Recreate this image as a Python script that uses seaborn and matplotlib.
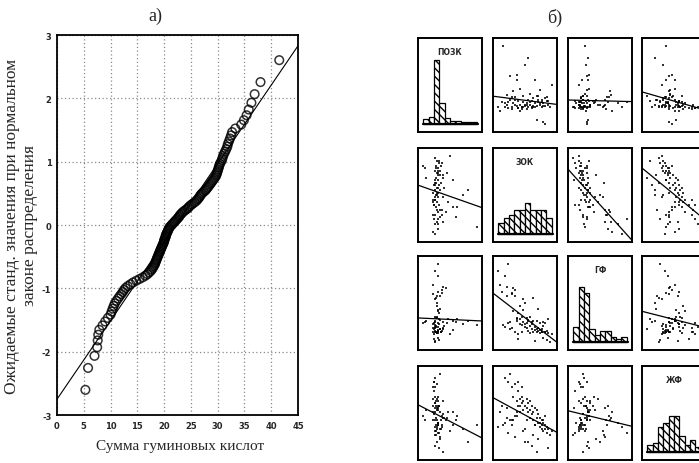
import numpy as np
import pandas as pd
import matplotlib
matplotlib.use("Agg")
import matplotlib.pyplot as plt
import seaborn as sns
from statistics import NormalDist

# ---------------- data ----------------
# a) normal probability plot: "Сумма гуминовых кислот" (sorted observations)
sum_humic = [5.3, 5.8, 7.0, 7.5, 7.6, 7.7, 7.9, 8.5, 9.0, 9.5,
             10.0, 10.2, 10.4, 10.6, 10.8, 11.1, 11.4, 11.7, 12.0, 12.3,
             12.5, 12.8, 13.2, 13.7, 14.2, 14.8, 15.4, 16.0, 16.5, 16.9,
             17.2, 17.5, 17.7, 17.9, 18.0, 18.2, 18.3, 18.4, 18.5, 18.6,
             18.7, 18.8, 18.9, 19.0, 19.1, 19.2, 19.3, 19.4, 19.5, 19.6,
             19.7, 19.8, 19.9, 20.0, 20.0, 20.1, 20.2, 20.3, 20.3, 20.4,
             20.5, 20.6, 20.7, 20.8, 20.9, 21.0, 21.2, 21.4, 21.6, 21.8,
             22.0, 22.2, 22.4, 22.6, 22.8, 22.9, 23.1, 23.3, 23.5, 23.8,
             24.1, 24.4, 24.6, 24.8, 25.1, 25.4, 25.7, 26.0, 26.2, 26.4,
             26.6, 26.7, 26.9, 27.1, 27.4, 27.7, 27.9, 28.1, 28.3, 28.5,
             28.7, 28.9, 29.1, 29.3, 29.5, 29.7, 29.8, 29.9, 30.0, 30.1,
             30.2, 30.3, 30.4, 30.6, 30.8, 30.9, 31.0, 31.2, 31.4, 31.6,
             31.8, 31.9, 32.1, 32.3, 32.5, 32.7, 33.3, 34.4, 34.9, 35.4,
             35.8, 36.3, 36.9, 38.0, 41.5]
x_ticks = [0, 5, 10, 15, 20, 25, 30, 35, 40, 45]
y_ticks = [-3, -2, -1, 0, 1, 2, 3]

# b) scatter-plot matrix variables
var_names = ["ПОЗК", "ЗОК", "ГФ", "ЖФ"]
poz = [2.0, 1.7, 2.4, 7.0, 2.0, 3.0, 2.2, 1.9, 2.6, 4.5,
       2.0, 1.8, 2.3, 2.8, 2.2, 2.1, 4.2, 2.5, 1.9, 2.2,
       3.5, 2.0, 2.0, 2.4, 2.9, 2.1, 5.4, 2.3, 1.8, 2.6,
       2.0, 3.1, 2.2, 1.9, 2.5, 2.7, 2.0, 4.2, 2.3, 2.1,
       0.9, 2.4, 2.9, 2.2, 3.4, 2.0, 2.6, 2.3, 2.1, 2.1,
       0.6, 2.5, 2.8, 2.2, 2.0, 3.8, 2.4, 0.8, 2.7, 2.3,
       2.0, 2.9, 2.2, 2.6, 2.4, 1.8, 2.5, 6.0, 1.9, 2.1,
       2.3, 3.3, 2.0, 2.6, 2.2, 1.7, 2.4, 2.0, 4.6, 2.8]
zok = [10, 11, 12, 13, 14, 15, 15, 16, 17, 17,
       18, 18, 19, 20, 20, 21, 21, 22, 22, 23,
       23, 24, 24, 25, 25, 26, 26, 27, 27, 28,
       28, 29, 29, 30, 30, 31, 31, 32, 32, 33,
       33, 34, 34, 35, 35, 36, 36, 37, 37, 38,
       38, 39, 39, 40, 41, 42, 36, 37, 38, 35,
       30, 33, 26, 20, 16, 24, 40, 28, 22, 31,
       14, 19, 25, 34, 27, 23, 29, 32, 21, 18]
gf = [7.8, 6.3, 5.6, 2.2, 2.0, 6.1, 5.2, 2.4, 1.8, 2.5,
      1.9, 5.4, 3.6, 5.8, 1.4, 2.9, 2.6, 3.4, 0.7, 4.1,
      2.8, 3.0, 2.2, 3.7, 2.5, 2.0, 2.3, 2.4, 1.9, 2.7,
      1.6, 2.1, 3.0, 1.8, 2.3, 1.5, 2.6, 1.7, 2.0, 1.4,
      2.6, 1.6, 1.9, 1.3, 2.4, 1.5, 1.8, 0.8, 2.1, 1.4,
      2.4, 0.6, 1.6, 1.3, 0.4, 1.2, 1.4, 2.5, 1.5, 1.7,
      2.5, 1.8, 4.5, 5.2, 8.5, 1.5, 2.8, 2.6, 1.2, 5.0,
      7.2, 6.0, 4.9, 3.8, 2.9, 2.3, 1.3, 0.5, 2.8, 5.5]
zhf = [37, 44, 47, 38, 60, 41, 46, 58, 62, 40,
       56, 40, 51, 42, 57, 49, 44, 47, 54, 50,
       44, 48, 51, 45, 49, 47, 36, 46, 50, 44,
       48, 41, 45, 43, 47, 40, 44, 38, 38, 41,
       45, 39, 43, 37, 41, 40, 36, 39, 35, 38,
       42, 34, 37, 36, 33, 35, 38, 40, 36, 39,
       28, 25, 30, 32, 34, 56, 27, 30, 58, 33,
       39, 40, 35, 31, 40, 47, 49, 46, 42, 38]

# ---------------- style ----------------
sns.set_theme(style="white")
plt.rcParams["font.family"] = ["Liberation Serif", "DejaVu Serif"]
W, H = 699, 464
fig = plt.figure(figsize=(W / 100, H / 100), dpi=100)
fig.patch.set_facecolor("white")

# ---------------- a) probability plot ----------------
ax = fig.add_axes([57 / W, 1 - 416 / H, 241 / W, 380 / H])
x_sorted = np.sort(np.asarray(sum_humic, dtype=float))
n = len(x_sorted)
nd = NormalDist()
expected = np.array([nd.inv_cdf((i + 1 - 0.375) / (n + 0.25)) for i in range(n)])
qq = pd.DataFrame({"x": x_sorted, "z": expected})

ax.set_xlim(0, 45)
ax.set_ylim(-3, 3)
sns.regplot(data=qq, x="x", y="z", ax=ax, ci=None, truncate=False,
            scatter_kws=dict(s=38, facecolors="none", edgecolors="black", linewidths=1.1),
            line_kws=dict(color="black", lw=0.8))
ax.set_xlim(0, 45)
ax.set_ylim(-3, 3)
ax.set_xticks(x_ticks)
ax.set_yticks(y_ticks)
ax.set_xticklabels([str(v) for v in x_ticks], fontsize=6, fontweight="bold", family="DejaVu Sans")
ax.set_yticklabels([str(abs(v)) if v >= 0 else "-" + str(abs(v)) for v in y_ticks],
                   fontsize=6, fontweight="bold", family="DejaVu Sans")
ax.tick_params(length=0, pad=4)
ax.grid(True, color="#8a8a8a", linestyle=(0, (1, 2)), linewidth=0.9)
ax.set_axisbelow(True)
for s in ax.spines.values():
    s.set_color("black")
    s.set_linewidth(1.3)
ax.set_xlabel("")
ax.set_ylabel("")

fig.text(155 / W, 1 - 16 / H, "а)", ha="center", va="center", fontsize=13)
fig.text(180 / W, 1 - 447 / H, "Сумма гуминовых кислот", ha="center", va="center", fontsize=11)
fig.text(21 / W, 1 - 226 / H, "Ожидаемые станд. значения при нормальном\nзаконе распределения",
         ha="center", va="center", rotation=90, fontsize=12.5, linespacing=1.2,
         multialignment="center")

# ---------------- b) scatter-plot matrix ----------------
fig.text(555 / W, 1 - 18 / H, "б)", ha="center", va="center", fontsize=13)
mat = pd.DataFrame({var_names[0]: poz, var_names[1]: zok, var_names[2]: gf, var_names[3]: zhf})
col_left = [418, 493, 568, 642]
row_top = [39, 149, 257, 367]
bw, bh = 64, 94
hist_frac = [0.68, 0.33, 0.58, 0.38]


def lims(v):
    lo, hi = mat[v].min(), mat[v].max()
    r = hi - lo
    return lo - 0.1 * r, hi + 0.1 * r


for i, vy in enumerate(var_names):
    for j, vx in enumerate(var_names):
        a = fig.add_axes([col_left[j] / W, 1 - (row_top[i] + bh) / H, bw / W, bh / H])
        a.set_facecolor("white")
        a.set_xlim(*lims(vx))
        if i == j:
            counts, edges = np.histogram(mat[vx], bins=10)
            R = counts.max() / hist_frac[i]
            a.set_ylim(-0.09 * R, 0.91 * R)
            sns.histplot(data=mat, x=vx, bins=edges, ax=a, stat="count",
                         color="white", edgecolor="black", linewidth=0.9, alpha=1)
            for p in a.patches:
                p.set_hatch("\\\\\\\\")
            a.axhline(0, xmin=0.08, xmax=0.93, color="black", lw=1.6)
            a.text(0.5, 0.86, vx, transform=a.transAxes, ha="center", va="center",
                   fontsize=5.5, fontweight="bold", family="DejaVu Sans")
        else:
            a.set_ylim(*lims(vy))
            sns.regplot(data=mat, x=vx, y=vy, ax=a, ci=None, truncate=False,
                        marker="s",
                        scatter_kws=dict(s=3.5, color="black", linewidths=0),
                        line_kws=dict(color="black", lw=0.9))
            a.set_xlim(*lims(vx))
            a.set_ylim(*lims(vy))
        a.set_xticks([])
        a.set_yticks([])
        a.set_xlabel("")
        a.set_ylabel("")
        for s in a.spines.values():
            s.set_color("black")
            s.set_linewidth(1.4)

fig.savefig("out.png", dpi=100, facecolor="white")
